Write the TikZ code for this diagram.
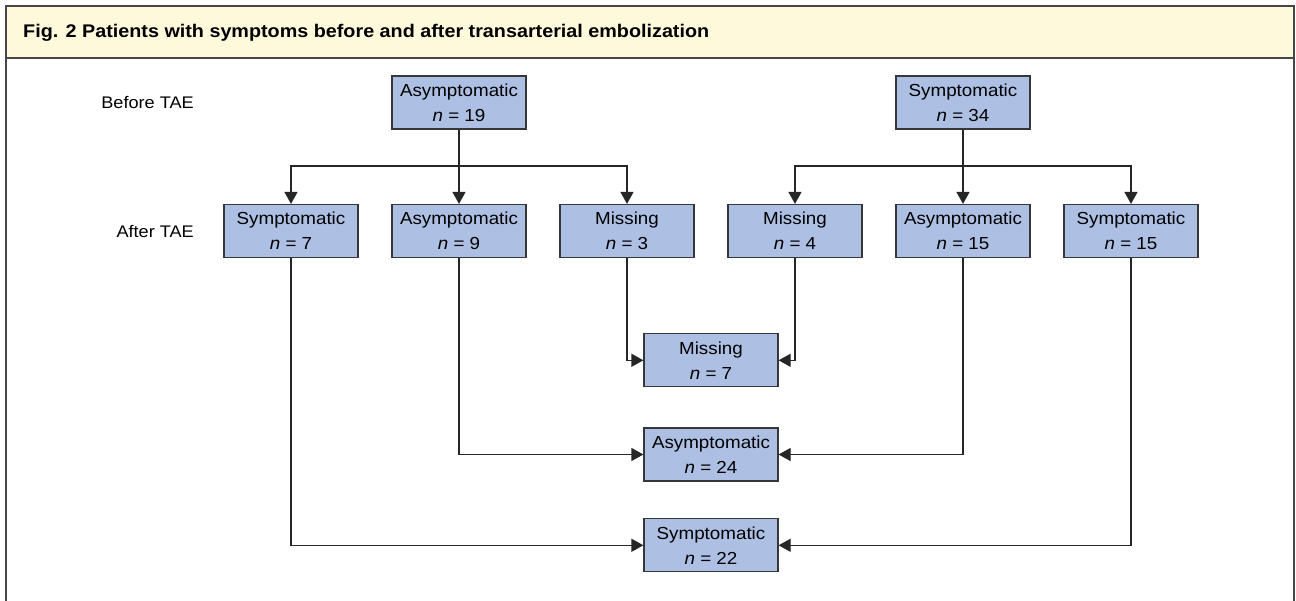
\documentclass[tikz,border=0pt]{standalone}
\usepackage{fontspec}
\setmainfont{Liberation Sans}[FakeStretch=1.08]
\usetikzlibrary{arrows.meta}
\definecolor{boxfill}{RGB}{173,191,227}
\definecolor{boxline}{RGB}{55,55,55}
\definecolor{headfill}{RGB}{255,249,220}
\definecolor{frameline}{RGB}{70,70,70}
\begin{document}
\begin{tikzpicture}[x=1pt,y=-1pt,
  flowbox/.style={draw=boxline, line width=1.2pt, fill=boxfill, minimum width=134pt, minimum height=53pt,
    inner sep=0pt, align=center, font=\fontsize{17.4}{25}\selectfont},
  rowlabel/.style={anchor=east, inner sep=0pt, font=\fontsize{16.8}{20}\selectfont},
  conn/.style={line width=1.2pt, draw=black!85},
  arr/.style={conn, -{Triangle[length=12pt,width=13pt]}}]
\useasboundingbox (0,0) rectangle (1296,600);
% frame and header
\fill[headfill] (6,6) rectangle (1294,58);
\draw[frameline, line width=1.5pt] (6,58) -- (1294,58);
\draw[frameline, line width=2pt] (6,610) -- (6,6) -- (1294,6) -- (1294,610);
\node[anchor=base west, inner sep=0pt, font=\fontsize{18.3}{20}\selectfont\bfseries] (title) at (23,37)
  {Fig. 2 Patients with symptoms before and after transarterial embolization};
% row labels
\node[rowlabel] (lbefore) at (194,102.5) {Before TAE};
\node[rowlabel] (lafter) at (194,231) {After TAE};
% top boxes
\node[flowbox] (a0) at (459,102.5) {Asymptomatic\\\textit{n} = 19};
\node[flowbox] (s0) at (963,102.5) {Symptomatic\\\textit{n} = 34};
% middle row
\node[flowbox] (b1) at (291,231) {Symptomatic\\\textit{n} = 7};
\node[flowbox] (b2) at (459,231) {Asymptomatic\\\textit{n} = 9};
\node[flowbox] (b3) at (627,231) {Missing\\\textit{n} = 3};
\node[flowbox] (b4) at (795,231) {Missing\\\textit{n} = 4};
\node[flowbox] (b5) at (963,231) {Asymptomatic\\\textit{n} = 15};
\node[flowbox] (b6) at (1131,231) {Symptomatic\\\textit{n} = 15};
% bottom boxes
\node[flowbox] (c1) at (711,360.3) {Missing\\\textit{n} = 7};
\node[flowbox] (c2) at (711,454.5) {Asymptomatic\\\textit{n} = 24};
\node[flowbox] (c3) at (711,545.3) {Symptomatic\\\textit{n} = 22};
% junctions
\coordinate (ja) at (459,166);
\coordinate (js) at (963,166);
% connectors from top boxes
\draw[conn] (a0.south) -- (ja);
\draw[arr] (ja) -- (b2.north);
\draw[arr] (ja) -| (b1.north);
\draw[arr] (ja) -| (b3.north);
\draw[conn] (s0.south) -- (js);
\draw[arr] (js) -- (b5.north);
\draw[arr] (js) -| (b4.north);
\draw[arr] (js) -| (b6.north);
% connectors to bottom boxes
\draw[arr] (b3.south) |- (c1.west);
\draw[arr] (b4.south) |- (c1.east);
\draw[arr] (b2.south) |- (c2.west);
\draw[arr] (b5.south) |- (c2.east);
\draw[arr] (b1.south) |- (c3.west);
\draw[arr] (b6.south) |- (c3.east);
\end{tikzpicture}
\end{document}
